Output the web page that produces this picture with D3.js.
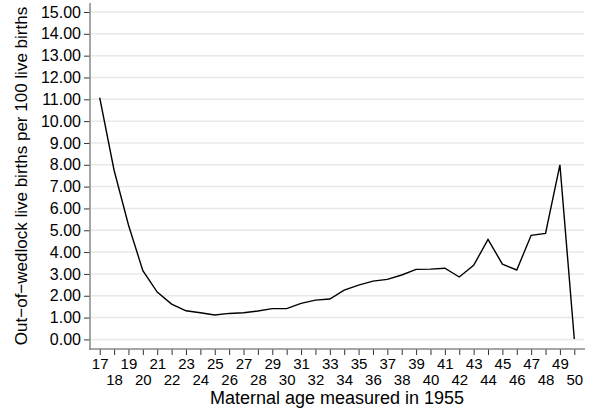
<!DOCTYPE html>
<html>
<head>
<meta charset="utf-8">
<script src="https://cdn.jsdelivr.net/npm/d3@7"></script>
<style>
  body { margin: 0; background: #fff; }
  text { font-family: "Liberation Sans", Arial, sans-serif; fill: #000; }
</style>
</head>
<body>
<script>
// maternal age (years) and out-of-wedlock rate per 100 live births
var ages = [17, 18, 19, 20, 21, 22, 23, 24, 25, 26, 27, 28, 29, 30, 31, 32, 33,
            34, 35, 36, 37, 38, 39, 40, 41, 42, 43, 44, 45, 46, 47, 48, 49, 50];
var rates = [11.08, 7.75, 5.24, 3.15, 2.17, 1.62, 1.31, 1.22, 1.12, 1.19, 1.22, 1.30, 1.41, 1.41, 1.65, 1.80, 1.85,
             2.26, 2.49, 2.67, 2.75, 2.95, 3.21, 3.22, 3.26, 2.86, 3.39, 4.58, 3.45, 3.18, 4.77, 4.86, 8.00, 0.02];
var yTicks = d3.range(0, 16, 1);

var dataset = ages.map(function(a, i) { return {age: a, rate: rates[i]}; });

var fullwidth = 593, fullheight = 410;

var svg = d3.select("body").append("svg")
    .attr("width", fullwidth)
    .attr("height", fullheight);

// set the ranges
var x = d3.scaleLinear().domain([17, 50]).range([99.7, 574.3]);
var y = d3.scaleLinear().domain([0, 15]).range([339.4, 12]);

// gridlines
svg.append("g")
  .selectAll("line")
  .data(yTicks)
  .enter().append("line")
    .attr("x1", 91)
    .attr("x2", 584)
    .attr("y1", function(d) { return y(d); })
    .attr("y2", function(d) { return y(d); })
    .style("stroke", "#e8e8e8")
    .style("stroke-width", 1.5);

// y axis
var yAxis = svg.append("g")
    .attr("transform", "translate(90,0)")
    .call(d3.axisLeft(y).tickValues(yTicks).tickSize(6).tickSizeOuter(0)
      .tickFormat(d3.format(".2f")));
yAxis.select(".domain").remove();
yAxis.selectAll(".tick line").style("stroke", "#333");
yAxis.selectAll(".tick text")
    .attr("x", -9)
    .style("font-size", "16px")
    .style("font-family", "'Liberation Sans', Arial, sans-serif");
svg.append("line")
    .attr("x1", 90).attr("x2", 90)
    .attr("y1", 3).attr("y2", 350)
    .style("stroke", "#888")
    .style("stroke-width", 1.5);

// x axis
var xAxis = svg.append("g")
    .attr("transform", "translate(0,349)")
    .call(d3.axisBottom(x).tickValues(ages).tickSize(6).tickFormat(d3.format("d")));
xAxis.select(".domain").remove();
xAxis.selectAll(".tick line").style("stroke", "#333");
xAxis.selectAll(".tick text")
    .attr("y", function(d) { return d % 2 === 1 ? 9 : 25; })
    .attr("dy", "0.71em")
    .style("font-size", "15px")
    .style("font-family", "'Liberation Sans', Arial, sans-serif");
svg.append("line")
    .attr("x1", 89).attr("x2", 585)
    .attr("y1", 349).attr("y2", 349)
    .style("stroke", "#888")
    .style("stroke-width", 1.5);

// the line
var line = d3.line()
    .x(function(d) { return x(d.age); })
    .y(function(d) { return y(d.rate); });

svg.append("path")
    .datum(dataset)
    .attr("d", line)
    .style("fill", "none")
    .style("stroke", "#000")
    .style("stroke-width", 1.4);

// axis titles
svg.append("text")
    .attr("x", 337)
    .attr("y", 404)
    .style("text-anchor", "middle")
    .style("font-size", "18px")
    .text("Maternal age measured in 1955");

svg.append("text")
    .attr("transform", "translate(27,176) rotate(-90)")
    .style("text-anchor", "middle")
    .style("font-size", "17px")
    .text("Out\u2212of\u2212wedlock live births per 100 live births");
</script>
</body>
</html>
